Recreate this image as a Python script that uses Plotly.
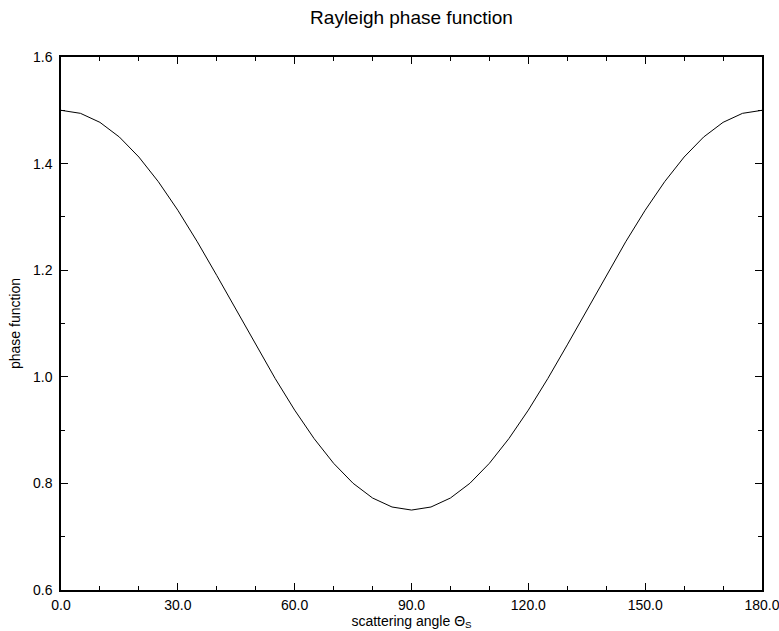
import plotly.graph_objects as go

angles = [0, 5, 10, 15, 20, 25, 30, 35, 40, 45, 50, 55, 60, 65, 70, 75, 80, 85, 90,
          95, 100, 105, 110, 115, 120, 125, 130, 135, 140, 145, 150, 155, 160, 165, 170, 175, 180]
phase = [1.5, 1.4943, 1.4774, 1.4498, 1.4123, 1.3660, 1.3125, 1.2533, 1.1901, 1.125,
         1.0599, 0.9967, 0.9375, 0.8840, 0.8377, 0.8002, 0.7726, 0.7557, 0.75,
         0.7557, 0.7726, 0.8002, 0.8377, 0.8840, 0.9375, 0.9967, 1.0599, 1.125,
         1.1901, 1.2533, 1.3125, 1.3660, 1.4123, 1.4498, 1.4774, 1.4943, 1.5]
x_ticks = [0, 30, 60, 90, 120, 150, 180]
x_labels = ["0.0", "30.0", "60.0", "90.0", "120.0", "150.0", "180.0"]
y_ticks = [0.6, 0.8, 1.0, 1.2, 1.4, 1.6]
y_labels = ["0.6", "0.8", "1.0", "1.2", "1.4", "1.6"]

font = "Liberation Sans, Arial, sans-serif"

fig = go.Figure()
fig.add_trace(go.Scatter(x=angles, y=phase, mode="lines",
                         line=dict(color="black", width=1), showlegend=False))

fig.update_layout(
    width=779, height=631,
    margin=dict(l=61, r=17, t=57, b=41),
    paper_bgcolor="white", plot_bgcolor="white",
    font=dict(family=font, size=14, color="black"),
    title=dict(text="Rayleigh phase function", xref="paper", x=0.5, xanchor="center",
               y=1 - 17 / 631, yanchor="middle", font=dict(size=19, family=font)),
)
fig.update_xaxes(
    range=[0, 180], tickvals=x_ticks, ticktext=x_labels,
    ticks="inside", ticklen=7, tickwidth=1, tickcolor="black",
    minor=dict(dtick=10, ticks="inside", ticklen=4, tickwidth=1, tickcolor="black"),
    showline=True, linecolor="black", linewidth=1.5, mirror="ticks",
    showgrid=False, zeroline=False, automargin=False,
    title=dict(text="scattering angle Θ<sub>S</sub>", standoff=2, font=dict(size=14)),
    tickfont=dict(size=14), ticklabelstandoff=1, ticklabeloverflow="allow",
)
fig.update_yaxes(
    range=[0.6, 1.6], tickvals=y_ticks, ticktext=y_labels,
    ticks="inside", ticklen=7, tickwidth=1, tickcolor="black",
    minor=dict(dtick=0.1, ticks="inside", ticklen=4, tickwidth=1, tickcolor="black"),
    showline=True, linecolor="black", linewidth=1.5, mirror="ticks",
    showgrid=False, zeroline=False, automargin=False,
    title=dict(text="phase function", standoff=9, font=dict(size=14)),
    tickfont=dict(size=14), ticklabelstandoff=4,
)

fig.write_html("out.html")
